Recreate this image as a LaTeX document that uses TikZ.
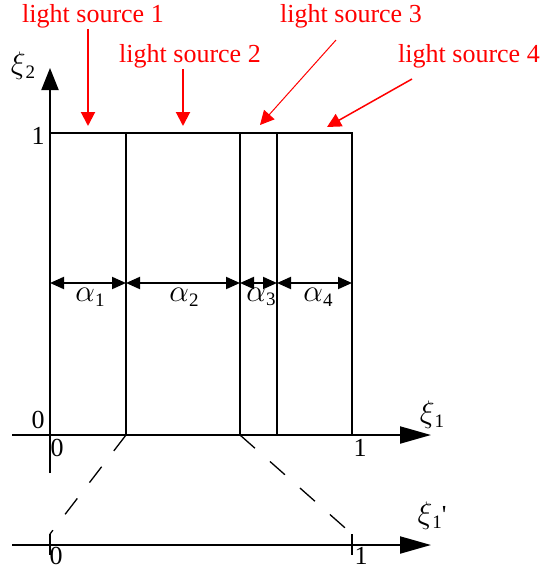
\documentclass[tikz,border=0pt]{standalone}
\usepackage{fontspec}
\setmainfont{Liberation Serif}
\usetikzlibrary{arrows.meta}
\definecolor{srcred}{HTML}{FF0000}
\newcommand{\lowidx}[1]{\raisebox{-0.4ex}{\fontsize{19}{19}\selectfont #1}}
\newcommand{\grk}[1]{\scalebox{1.25}{$#1$}}

\begin{document}
\begin{tikzpicture}[x=1pt, y=-1pt,
      every node/.style={font=\fontsize{26}{30}\selectfont, inner sep=1pt},
      axis/.style={line width=2pt},
      srclabel/.style={text=srcred},
      srcarrow/.style={draw=srcred, line width=2pt,
        -{Triangle[length=14pt,width=14pt]}},
      widthbar/.style={line width=2pt,
        {Triangle[length=14pt,width=12pt]}-{Triangle[length=14pt,width=12pt]}},
      mapline/.style={line width=1.3pt, dash pattern=on 20pt off 20pt}
    ]
      \useasboundingbox (0,0) rectangle (540,571);
      % axes
      \draw[axis, -{Triangle[length=22pt,width=17pt]}] (50,473) -- (50,68);
      \draw[axis, -{Triangle[length=31pt,width=17pt]}] (12,435) -- (431,435);
      \draw[axis, -{Triangle[length=31pt,width=17pt]}] (12,545) -- (431,545);
      \draw[axis] (50,534) -- (50,555);
      \draw[axis] (352,534) -- (352,555);
      % unit square split into strips
      \draw[axis] (50,133) -- (352,133) -- (352,435);
      \draw[axis] (126,133) -- (126,435);
      \draw[axis] (240,133) -- (240,435);
      \draw[axis] (277,133) -- (277,435);
      \draw[widthbar] (50,283) -- (126,283);
      \draw[widthbar] (126,283) -- (240,283);
      \draw[widthbar] (240,283) -- (277,283);
      \draw[widthbar] (277,283) -- (352,283);
      \node (a1) at (90,297) {\grk{\alpha}\lowidx{1}};
      \node (a2) at (184,297) {\grk{\alpha}\lowidx{2}};
      \node (a3) at (261,297) {\grk{\alpha}\lowidx{3}};
      \node (a4) at (318,297) {\grk{\alpha}\lowidx{4}};
      % remapping of strip 2
      \draw[mapline] (126,435) -- (50,534);
      \draw[mapline] (240,435) -- (352,534);
      % axis labels
      \node (xi2) at (23,66) {\grk{\xi}\lowidx{2}};
      \node (xi1) at (432,415) {\grk{\xi}\lowidx{1}};
      \node (xi1p) at (432,516) {\grk{\xi}\lowidx{1}\textquotesingle};
      \node (one2) at (38,136) {1};
      \node (zero2) at (38,420) {0};
      \node (zero1) at (57,448) {0};
      \node (one1) at (360,448) {1};
      \node (zero1p) at (56,556) {0};
      \node (one1p) at (361,556) {1};
      % light sources
      \node[srclabel] (src1) at (93,16) {light source 1};
      \node[srclabel] (src2) at (190,56) {light source 2};
      \node[srclabel] (src3) at (351,16) {light source 3};
      \node[srclabel] (src4) at (469,56) {light source 4};
      \coordinate (hit1) at (88,126);
      \coordinate (hit2) at (183,126);
      \coordinate (hit3) at (260,125);
      \coordinate (hit4) at (327,127);
      \coordinate (from3) at (336,40);
      \coordinate (from4) at (412,79);
      \draw[srcarrow] (src1.south -| hit1) -- (hit1);
      \draw[srcarrow] (src2.south -| hit2) -- (hit2);
      \draw[srcarrow, line width=1pt] (from3) -- (hit3);
      \draw[srcarrow, line width=1.5pt] (from4) -- (hit4);
    \end{tikzpicture}
\end{document}
